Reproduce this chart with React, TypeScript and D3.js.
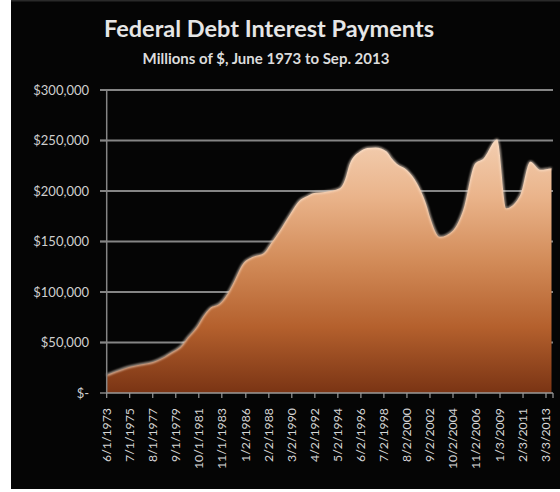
import React from "react";
import * as d3 from "d3";

const pointDates = [
  "1973-06", "1974-06", "1975-07", "1976-08", "1977-09", "1978-09", "1979-06", "1980-02",
  "1980-10", "1981-08", "1982-03", "1982-10", "1983-09", "1984-05", "1984-12", "1985-10",
  "1986-09", "1987-08", "1988-05", "1989-02", "1990-01", "1990-12", "1991-08", "1992-02",
  "1993-03", "1994-07", "1995-01", "1995-06", "1996-05", "1997-01", "1997-10", "1998-10",
  "1999-03", "1999-09", "2000-08", "2001-07", "2002-06", "2002-09", "2003-08", "2004-10",
  "2005-09", "2006-10", "2007-07", "2008-10", "2009-08", "2010-11", "2011-10", "2012-09",
  "2013-09",
];
const interestValues = [
  17800, 22000, 26000, 28500, 31000, 36000, 41000, 45800,
  55000, 65700, 76000, 83800, 88800, 98000, 110000, 128000,
  135000, 138000, 149000, 161000, 177000, 191000, 195000, 197700,
  199000, 202600, 212000, 227000, 239000, 242500, 243000, 239000,
  233000, 227000, 220800, 207600, 184000, 174600, 154700, 161000,
  181000, 227000, 232000, 251000, 183000, 196000, 229000, 221000,
  222500,
];
const xTickLabels = [
  "6/1/1973", "7/1/1975", "8/1/1977", "9/1/1979", "10/1/1981", "11/1/1983", "1/2/1986",
  "2/2/1988", "3/2/1990", "4/2/1992", "5/2/1994", "6/2/1996", "7/2/1998", "8/2/2000",
  "9/2/2002", "10/2/2004", "11/2/2006", "1/3/2009", "2/3/2011", "3/3/2013",
];
const yTickValues = [0, 50000, 100000, 150000, 200000, 250000, 300000];
const titleText = "Federal Debt Interest Payments";
const subtitleText = "Millions of $, June 1973 to Sep. 2013";

const W = 560;
const H = 492;

export default function App() {
  const parseMonth = d3.timeParse("%Y-%m");
  const parseLabel = d3.timeParse("%m/%d/%Y");
  const data = pointDates.map((d, i) => ({ date: parseMonth(d) as Date, value: interestValues[i] }));
  const tickDates = xTickLabels.map((l) => parseLabel(l) as Date);

  const x = d3
    .scaleTime()
    .domain([parseMonth("1973-06") as Date, parseMonth("2013-09") as Date])
    .range([106.7, 551.5]);
  const y = d3.scaleLinear().domain([0, 300000]).range([393, 90]);

  const area = d3
    .area<{ date: Date; value: number }>()
    .x((d) => x(d.date))
    .y0(y(0))
    .y1((d) => y(d.value))
    .curve(d3.curveMonotoneX);
  const line = d3
    .line<{ date: Date; value: number }>()
    .x((d) => x(d.date))
    .y((d) => y(d.value))
    .curve(d3.curveMonotoneX);

  const fmt = (v: number) => (v === 0 ? "$-" : "$" + d3.format(",")(v));
  const x0 = 106.7;
  const x1 = 553;
  const font = "Lato, 'Open Sans', sans-serif";

  return (
    <svg
      width={W}
      height={H}
      style={{ position: "absolute", left: 0, top: 0, display: "block" }}
    >
      <defs>
        <linearGradient id="fillGrad" gradientUnits="userSpaceOnUse" x1="0" y1={y(260000)} x2="0" y2={y(0)}>
          <stop offset="0" stopColor="#f4d2b6" />
          <stop offset="0.25" stopColor="#eab48b" />
          <stop offset="0.5" stopColor="#d28b58" />
          <stop offset="0.75" stopColor="#b4602d" />
          <stop offset="1" stopColor="#7a3414" />
        </linearGradient>
        <filter id="soft" x="-5%" y="-5%" width="110%" height="110%">
          <feGaussianBlur stdDeviation="1.2" />
        </filter>
      </defs>
      <rect x={0} y={0} width={W} height={H} fill="#ffffff" />
      <rect x={11} y={0} width={W - 11} height={489} fill="#050505" />
      <rect x={11} y={0} width={W - 11} height={1.5} fill="#2a2a2a" />

      <text x={269} y={37} textAnchor="middle" fill="#e6e6e6" fontFamily={font} fontWeight={700} fontSize={23.5}>
        {titleText}
      </text>
      <text x={266} y={64} textAnchor="middle" fill="#dcdcdc" fontFamily={font} fontWeight={700} fontSize={15}>
        {subtitleText}
      </text>

      {yTickValues.map((v) => (
        <g key={v}>
          {v > 0 && (
            <line x1={100} x2={x1} y1={y(v)} y2={y(v)} stroke="#858585" strokeWidth={1.8} />
          )}
          <line x1={100} x2={x0} y1={y(v)} y2={y(v)} stroke="#858585" strokeWidth={1.5} />
          <text
            x={89}
            y={y(v)}
            dy="0.35em"
            textAnchor="end"
            fill="#cfcfcf"
            fontFamily={font}
            fontSize={13}
          >
            {fmt(v)}
          </text>
        </g>
      ))}

      <path d={area(data) || ""} fill="url(#fillGrad)" />
      <path
        d={line(data) || ""}
        fill="none"
        stroke="#fbe6d4"
        strokeWidth={2}
        opacity={0.8}
        filter="url(#soft)"
      />

      <line x1={x0} x2={x0} y1={y(300000)} y2={y(0)} stroke="#858585" strokeWidth={1.5} />
      <line x1={x0} x2={x1} y1={y(0)} y2={y(0)} stroke="#9a9a9a" strokeWidth={1.5} />

      {tickDates.map((d, i) => (
        <g key={xTickLabels[i]} transform={`translate(${x(d)},${y(0)})`}>
          <line y1={0} y2={5} stroke="#9a9a9a" strokeWidth={1.2} />
          <text
            transform="translate(0,15) rotate(-90)"
            textAnchor="end"
            dy="0.35em"
            fill="#d6d6d6"
            fontFamily={font}
            fontSize={12.3}
          >
            {xTickLabels[i]}
          </text>
        </g>
      ))}
      <line x1={x1} x2={x1} y1={y(0)} y2={y(0) + 5} stroke="#9a9a9a" strokeWidth={1.2} />
    </svg>
  );
}
